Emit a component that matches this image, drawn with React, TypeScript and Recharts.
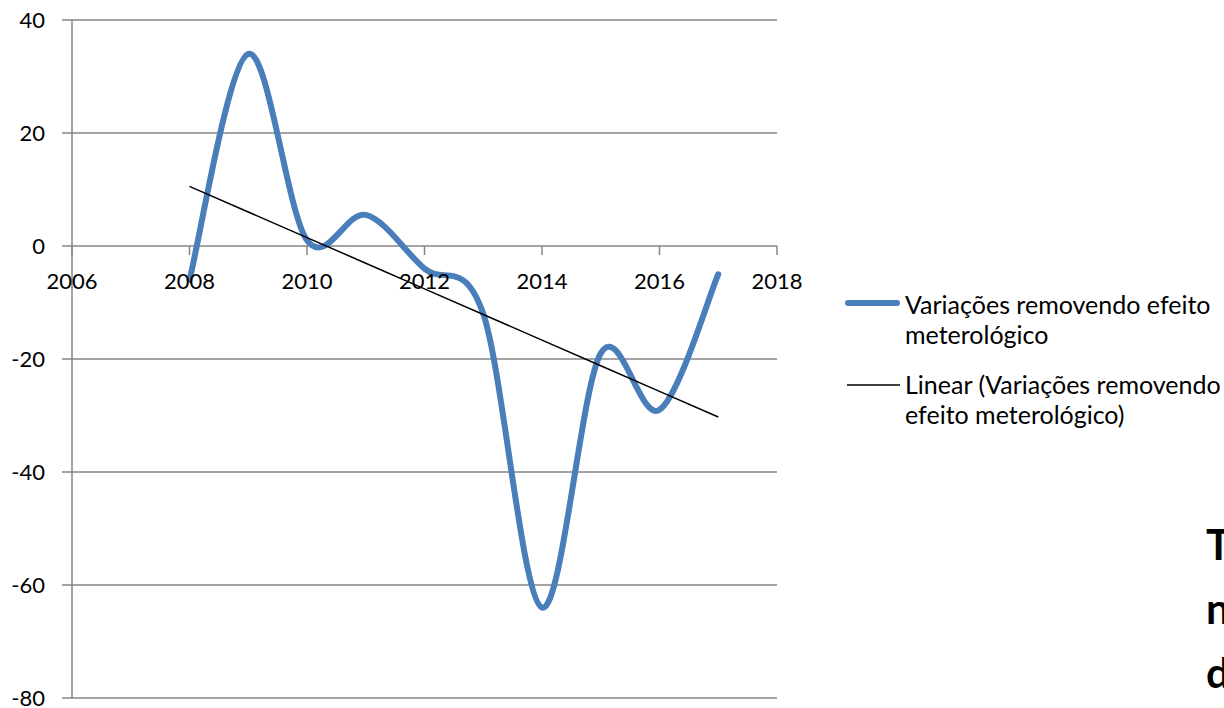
import React from 'react';
import { LineChart, Line, XAxis, YAxis, CartesianGrid, ReferenceDot } from 'recharts';

const years = [2008, 2009, 2010, 2011, 2012, 2013, 2014, 2015, 2016, 2017];
const variacoes = [-6, 34, 1, 5.5, -4, -12, -64, -19, -29, -5];
const xTicks = [2006, 2008, 2010, 2012, 2014, 2016, 2018];
const yTicks = [-80, -60, -40, -20, 0, 20, 40];

const seriesName = 'Variações removendo efeito meterológico';
const trendName = 'Linear (Variações removendo efeito meterológico)';

// least squares trend, like Excel's linear trendline
const n = years.length;
const mx = years.reduce((a, b) => a + b, 0) / n;
const my = variacoes.reduce((a, b) => a + b, 0) / n;
let sxy = 0;
let sxx = 0;
years.forEach((x, i) => {
  sxy += (x - mx) * (variacoes[i] - my);
  sxx += (x - mx) * (x - mx);
});
const slope = sxy / sxx;

const data = years.map((year, i) => ({
  year,
  value: variacoes[i],
  trend: my + slope * (year - mx),
}));

const GRAY = '#868686';
const BLUE = '#4a7ebb';
const FONT = 'Lato, "Open Sans", sans-serif';

// Excel-style smoothed line (Catmull-Rom through the points)
const excelSmooth = (context: any) => {
  let pts: [number, number][] = [];
  return {
    areaStart() {},
    areaEnd() {},
    lineStart() {
      pts = [];
    },
    lineEnd() {
      if (!pts.length) return;
      context.moveTo(pts[0][0], pts[0][1]);
      for (let i = 0; i < pts.length - 1; i++) {
        const p0 = pts[Math.max(i - 1, 0)];
        const p1 = pts[i];
        const p2 = pts[i + 1];
        const p3 = pts[Math.min(i + 2, pts.length - 1)];
        context.bezierCurveTo(
          p1[0] + (p2[0] - p0[0]) / 6,
          p1[1] + (p2[1] - p0[1]) / 6,
          p2[0] - (p3[0] - p1[0]) / 6,
          p2[1] - (p3[1] - p1[1]) / 6,
          p2[0],
          p2[1]
        );
      }
    },
    point(x: number, y: number) {
      pts.push([x, y]);
    },
  };
};

const XTickMark = (label: number) => (props: any) => {
  const { cx, cy } = props;
  return (
    <g>
      <line x1={cx} y1={cy} x2={cx} y2={cy + 9} stroke={GRAY} strokeWidth={1.5} />
      <text x={cx} y={cy + 43} textAnchor="middle" fontSize={22} fontFamily={FONT} fill="#000">
        {label}
      </text>
    </g>
  );
};

const ChartLegend = () => (
  <div
    style={{
      position: 'absolute',
      left: 845,
      top: 289,
      fontFamily: FONT,
      fontSize: 25,
      lineHeight: '30px',
      color: '#000',
    }}
  >
    <div style={{ display: 'flex', alignItems: 'flex-start', marginBottom: 20 }}>
      <svg width={60} height={30} style={{ flex: 'none' }}>
        <line x1={3} y1={14} x2={52} y2={14} stroke={BLUE} strokeWidth={6} strokeLinecap="round" />
      </svg>
      <span style={{ width: 319 }}>{seriesName}</span>
    </div>
    <div style={{ display: 'flex', alignItems: 'flex-start' }}>
      <svg width={60} height={30} style={{ flex: 'none' }}>
        <line x1={2} y1={16} x2={55} y2={16} stroke="#000" strokeWidth={1.5} />
      </svg>
      <span style={{ width: 319 }}>{trendName}</span>
    </div>
  </div>
);

export default function App() {
  return (
    <div style={{ position: 'absolute', left: 0, top: 0, width: 1224, height: 708, overflow: 'hidden', background: '#fff' }}>
      <LineChart width={1224} height={708} data={data} margin={{ top: 20, right: 447, bottom: 10, left: 12 }}>
        <CartesianGrid vertical={false} stroke={GRAY} strokeWidth={1.5} />
        <XAxis dataKey="year" type="number" domain={[2006, 2018]} ticks={xTicks} hide />
        <YAxis
          type="number"
          domain={[-80, 40]}
          ticks={yTicks}
          width={60}
          interval={0}
          axisLine={{ stroke: GRAY, strokeWidth: 1.5 }}
          tickLine={{ stroke: GRAY, strokeWidth: 1.5 }}
          tickSize={10}
          tickMargin={17}
          tick={{ fontSize: 22, fontFamily: FONT, fill: '#000' }}
        />
        {xTicks.map((t) => (
          <ReferenceDot key={t} x={t} y={0} r={0} shape={XTickMark(t)} ifOverflow="visible" />
        ))}
        <Line
          dataKey="value"
          name={seriesName}
          type={excelSmooth as any}
          stroke={BLUE}
          strokeWidth={6}
          strokeLinecap="round"
          dot={false}
          activeDot={false}
          isAnimationActive={false}
        />
        <Line
          dataKey="trend"
          name={trendName}
          type="linear"
          stroke="#000"
          strokeWidth={1.5}
          dot={false}
          activeDot={false}
          isAnimationActive={false}
        />
      </LineChart>
      <ChartLegend />
      <div
        style={{
          position: 'absolute',
          left: 1206,
          top: 512,
          fontFamily: FONT,
          fontWeight: 'bold',
          fontSize: 42,
          lineHeight: '64px',
          color: '#000',
        }}
      >
        <div>T</div>
        <div>n</div>
        <div>d</div>
      </div>
    </div>
  );
}
